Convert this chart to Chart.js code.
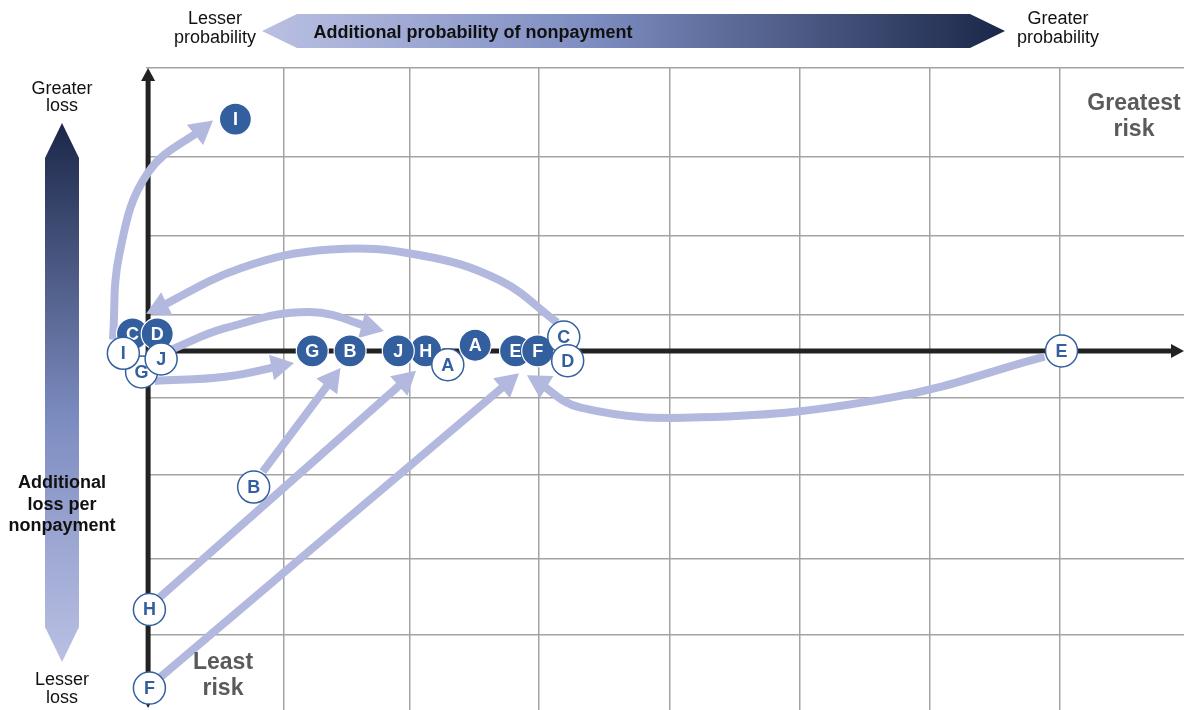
<!DOCTYPE html>
<html>
<head>
<meta charset="utf-8">
<script src="https://cdn.jsdelivr.net/npm/chart.js@4.4.1/dist/chart.umd.min.js"></script>
<style>
  html, body { margin: 0; padding: 0; background: #fff; }
  #wrap { position: relative; width: 1184px; height: 710px; overflow: hidden;
          font-family: "Liberation Sans", Arial, sans-serif; color: #111; }
  #wrap svg, #wrap canvas { position: absolute; left: 0; top: 0; }
  .lbl { position: absolute; text-align: center; white-space: nowrap; transform: translateX(-50%); }
  .reg { font-size: 18px; line-height: 19px; }
  .bold { font-size: 18px; font-weight: bold; }
  .risk { font-size: 23px; font-weight: bold; line-height: 26px; color: #5a5a5a; }
</style>
</head>
<body>
<div id="wrap">
  <svg width="1184" height="710">
    <defs>
      <linearGradient id="gh" x1="262" y1="0" x2="1005" y2="0" gradientUnits="userSpaceOnUse">
        <stop offset="0" stop-color="#BAC0E3"/>
        <stop offset="0.45" stop-color="#7D8CC0"/>
        <stop offset="1" stop-color="#1B2748"/>
      </linearGradient>
      <linearGradient id="gv" x1="0" y1="123" x2="0" y2="662" gradientUnits="userSpaceOnUse">
        <stop offset="0" stop-color="#1B2748"/>
        <stop offset="0.55" stop-color="#7D8CC0"/>
        <stop offset="1" stop-color="#BAC0E3"/>
      </linearGradient>
    </defs>
    <polygon points="262,31 297,14 970,14 1005,31 970,48 297,48" fill="url(#gh)"/>
    <polygon points="62,123 79,158 79,627 62,662 45,627 45,158" fill="url(#gv)"/>
  </svg>
  <canvas id="riskChart" width="1184" height="710"></canvas>

  <div class="lbl reg" style="left:215px;top:9px;">Lesser<br>probability</div>
  <div class="lbl reg" style="left:1058px;top:9px;">Greater<br>probability</div>
  <div class="lbl bold" style="left:473px;top:21px;line-height:22px;">Additional probability of nonpayment</div>
  <div class="lbl reg" style="left:62px;top:80px;line-height:17px;">Greater<br>loss</div>
  <div class="lbl reg" style="left:62px;top:670px;line-height:18px;">Lesser<br>loss</div>
  <div class="lbl bold" style="left:62px;top:472px;line-height:21.5px;">Additional<br>loss per<br>nonpayment</div>
  <div class="lbl risk" style="left:1134px;top:89px;">Greatest<br>risk</div>
  <div class="lbl risk" style="left:223px;top:648px;">Least<br>risk</div>
</div>

<script>
// 各項目 A〜J : 変更前(白丸)と変更後(青丸)の位置
const letters    = ['A', 'B', 'C', 'D', 'E', 'F', 'G', 'H', 'I', 'J'];
const probBefore = [2.30, 0.81, 3.19, 3.22, 7.01, 0.01, -0.05, 0.01, -0.19, 0.10];
const lossBefore = [-0.17, -1.68, 0.17, -0.12, 0.00, -4.16, -0.26, -3.19, -0.03, -0.10];
const probAfter  = [2.51, 1.55, -0.12, 0.07, 2.82, 2.99, 1.26, 2.13, 0.67, 1.92];
const lossAfter  = [0.07, 0.00, 0.21, 0.21, 0.00, 0.00, 0.00, 0.00, 2.86, 0.00];

// 移動を示す矢印の経路
const pathI = [[-0.27, 0.14], [-0.22, 1.20], [0.00, 2.20], [0.45, 2.78]];
const pathC = [[3.14, 0.35], [2.70, 0.87], [2.09, 1.18], [1.40, 1.25], [0.71, 1.02], [0.04, 0.50]];
const pathJ = [[0.17, 0.01], [0.59, 0.28], [1.24, 0.48], [1.75, 0.27]];
const pathG = [[0.05, -0.37], [0.59, -0.32], [1.06, -0.17]];
const pathB = [[0.88, -1.49], [1.44, -0.29]];
const pathH = [[0.09, -3.04], [2.01, -0.31]];
const pathF = [[0.09, -4.03], [2.80, -0.34]];
const pathE = [[6.88, -0.07], [5.69, -0.58], [4.24, -0.82], [3.32, -0.70], [2.96, -0.35]];

// グリッド線
const gridX = [1.04, 2.01, 3, 4, 5, 6, 7];
const gridY = [-3.50, -2.56, -1.53, -0.58, 0.44, 1.42, 2.40, 3.49];

const BLUE = '#335F9F';
const ARROW = '#B3B9DE';

function head(ctx, tx, ty, dx, dy, len, half) {
    const bx = tx - dx * len, by = ty - dy * len;
    ctx.beginPath();
    ctx.moveTo(tx, ty);
    ctx.lineTo(bx - dy * half, by + dx * half);
    ctx.lineTo(bx + dy * half, by - dx * half);
    ctx.closePath();
    ctx.fill();
}

// 太い軸と矢印 (軸より左のグリッドは消す)
const axesPlugin = {
    id: 'axes',
    beforeDatasetsDraw(chart) {
        const { ctx, chartArea: a, scales: { x, y } } = chart;
        const x0 = x.getPixelForValue(0), y0 = y.getPixelForValue(0);
        ctx.save();
        ctx.fillStyle = '#fff';
        ctx.fillRect(a.left - 2, a.top - 2, x0 - a.left, a.bottom - a.top + 4);
        ctx.strokeStyle = '#222';
        ctx.fillStyle = '#222';
        ctx.lineWidth = 5;
        ctx.beginPath();
        ctx.moveTo(x0, a.bottom - 8); ctx.lineTo(x0, a.top + 10);
        ctx.moveTo(x0, y0); ctx.lineTo(a.right - 10, y0);
        ctx.stroke();
        head(ctx, x0, a.top, 0, -1, 13, 7);
        head(ctx, x0, a.bottom - 2, 0, 1, 13, 7);
        head(ctx, a.right, y0, 1, 0, 13, 7);
        ctx.restore();
    }
};

// 矢じりと丸の中の文字
const marksPlugin = {
    id: 'marks',
    afterDatasetDraw(chart, args) {
        const ds = chart.data.datasets[args.index];
        const ctx = chart.ctx;
        const pts = args.meta.data;
        if (ds.arrow) {
            const last = pts[pts.length - 1];
            let px = last.cp1x, py = last.cp1y;
            if (px === undefined || (px === last.x && py === last.y)) {
                px = pts[pts.length - 2].x; py = pts[pts.length - 2].y;
            }
            let dx = last.x - px, dy = last.y - py;
            const l = Math.hypot(dx, dy);
            dx /= l; dy /= l;
            ctx.save();
            ctx.fillStyle = ARROW;
            head(ctx, last.x + dx * 8, last.y + dy * 8, dx, dy, 23, 13);
            ctx.restore();
        }
        if (ds.letters) {
            ctx.save();
            ctx.font = 'bold 18px "Liberation Sans", Arial, sans-serif';
            ctx.textAlign = 'center';
            ctx.textBaseline = 'middle';
            ctx.fillStyle = ds.letterColor;
            pts.forEach((p, i) => ctx.fillText(ds.letters[i], p.x, p.y + 1));
            ctx.restore();
        }
    }
};

const arrowSets = [pathI, pathC, pathJ, pathG, pathB, pathH, pathF, pathE].map(p => ({
    data: p.map(([x, y]) => ({ x, y })),
    showLine: true,
    borderColor: ARROW,
    borderWidth: 8,
    borderCapStyle: 'butt',
    pointRadius: 0,
    tension: 0.4,
    clip: false,
    order: 3,
    arrow: true
}));

const afterSet = {
    data: letters.map((l, i) => ({ x: probAfter[i], y: lossAfter[i] })),
    pointRadius: 16,
    pointBackgroundColor: BLUE,
    pointBorderColor: '#fff',
    pointBorderWidth: 1.2,
    clip: false,
    order: 2,
    letters: letters,
    letterColor: '#fff'
};

const beforeSet = {
    data: letters.map((l, i) => ({ x: probBefore[i], y: lossBefore[i] })),
    pointRadius: 16,
    pointBackgroundColor: '#fff',
    pointBorderColor: BLUE,
    pointBorderWidth: 1.5,
    clip: false,
    order: 1,
    letters: letters,
    letterColor: BLUE
};

const ctx = document.getElementById('riskChart').getContext('2d');
new Chart(ctx, {
    type: 'scatter',
    data: { datasets: [...arrowSets, afterSet, beforeSet] },
    options: {
        responsive: false,
        animation: false,
        events: [],
        layout: { autoPadding: false, padding: { left: 102.5, top: 68, right: 0, bottom: 0 } },
        elements: { line: { capBezierPoints: false } },
        plugins: { legend: { display: false }, tooltip: { enabled: false } },
        scales: {
            x: {
                type: 'linear', min: -0.35, max: 7.95,
                ticks: { display: false },
                border: { display: false },
                grid: { color: '#a3a3a3', lineWidth: 1.5, drawTicks: false },
                afterBuildTicks: s => { s.ticks = gridX.map(v => ({ value: v })); }
            },
            y: {
                type: 'linear', min: -4.43, max: 3.49,
                ticks: { display: false },
                border: { display: false },
                grid: { color: '#a3a3a3', lineWidth: 1.5, drawTicks: false },
                afterBuildTicks: s => { s.ticks = gridY.map(v => ({ value: v })); }
            }
        }
    },
    plugins: [axesPlugin, marksPlugin]
});
</script>
</body>
</html>
